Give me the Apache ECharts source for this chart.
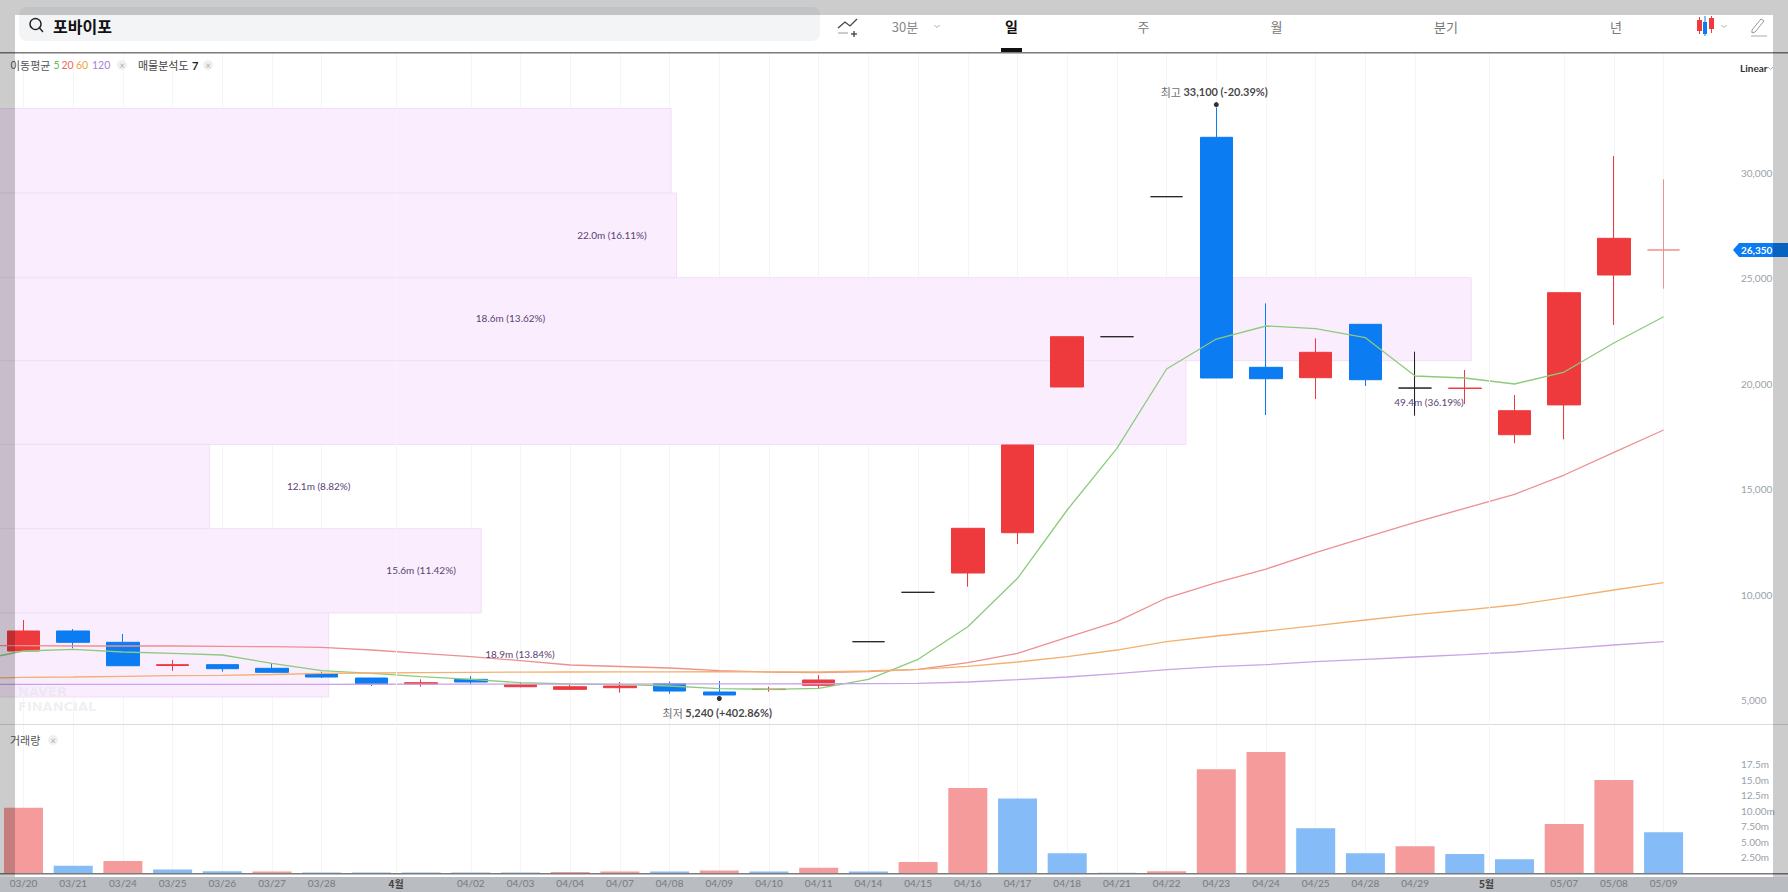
<!DOCTYPE html>
<html>
<head>
<meta charset="utf-8">
<title>포바이포</title>
<style>
  html, body { margin: 0; padding: 0; background: #fff; }
  #chart { width: 1788px; height: 892px; }
</style>
<script src="https://cdn.jsdelivr.net/npm/echarts@6/dist/echarts.min.js"></script>
</head>
<body>
<div id="chart"></div>
<script>
// first category only carries the moving averages off the left edge
var categories = ["03/19","03/20","03/21","03/24","03/25","03/26","03/27","03/28","03/31","04/01","04/02","04/03","04/04","04/07","04/08","04/09","04/10","04/11","04/14","04/15","04/16","04/17","04/18","04/21","04/22","04/23","04/24","04/25","04/28","04/29","04/30","05/02","05/07","05/08","05/09"];
var opens  = [null,7328,8277,7741,6640,6680,6507,6237,6047,5763,5985,5634,5510,5588,5778,5384,5500,5700,7769,10112,11028,12939,19850,22235,28876,31693,20784,20291,22823,19800,19780,17587,19000,25162,26350];
var closes = [null,8277,7741,6630,6680,6490,6318,6095,5763,5825,5858,5730,5634,5668,5430,5242,5520,5953,7769,10112,13148,17099,22235,22235,28876,20277,20243,21495,20196,19800,19800,18726,24323,26902,26350];
var lows   = [null,7328,7457,6630,6390,6347,6318,6047,5668,5634,5763,5607,5478,5350,5303,5240,5398,5558,7769,10112,10379,12403,19850,22235,28876,20277,18522,19281,19897,18488,19044,17179,17370,22790,24512];
var highs  = [null,8799,8371,8135,6900,6712,6745,6347,6047,5985,6143,5844,5748,5858,5873,5905,5634,6190,7769,10112,13148,17099,22235,22235,28876,33100,23819,22160,22823,21525,20656,19470,24323,30806,29700];
var flatDays = ["04/14","04/15","04/21","04/22","04/29"];

var ma5   = [6854,7328,7408,7281,7219,7139,6745,6394,6270,6109,5985,5825,5763,5748,5668,5540,5511,5559,5985,6934,8481,10776,14016,16942,20703,22126,22743,22615,22188,20371,20276,19992,20561,21937,23184];
var ma20  = [7589,7579,7566,7566,7566,7551,7532,7504,7376,7219,7058,6868,6664,6593,6522,6394,6332,6300,6347,6460,6773,7219,7978,8718,9842,10568,11217,11991,12721,13433,14096,14761,15675,16752,17810];
var ma60  = [6033,6081,6095,6128,6157,6176,6213,6270,6285,6300,6319,6323,6333,6338,6342,6347,6342,6333,6380,6460,6603,6806,7058,7375,7769,8039,8277,8528,8798,9049,9272,9510,9856,10221,10568];
var ma120 = [5744,5745,5746,5747,5748,5748,5749,5750,5752,5754,5756,5758,5760,5762,5765,5768,5771,5775,5777,5796,5858,5967,6095,6252,6442,6584,6679,6821,6935,7043,7153,7281,7437,7613,7769];

var volumes = [null,10.5,1.18,1.94,0.55,0.27,0.25,0.1,0.1,0.1,0.1,0.1,0.15,0.25,0.25,0.4,0.25,0.86,0.25,1.77,13.7,12.0,3.2,0.03,0.27,16.7,19.5,7.2,3.2,4.3,3.06,2.2,7.9,15.0,6.56];
var volumeUp = [0,1,0,1,0,0,1,0,0,0,0,0,1,1,0,1,0,1,0,1,1,0,0,0,1,1,1,0,0,1,0,0,1,1,0];

var priceTicks = [5000,10000,15000,20000,25000,30000];
var volumeTicks = [2.5,5,7.5,10,12.5,15,17.5];
var volumeTickLabels = ["2.50m","5.00m","7.50m","10.00m","12.5m","15.0m","17.5m"];

// 매물분석도: price bands, right edge in category units
var profileLow   = [29051,25034,21097,17127,13129,9130,5146];
var profileHigh  = [33054,29051,25034,21097,17127,13129,9130];
var profileRight = [14.03,14.14,30.13,24.39,4.74,10.21,7.14];
var profileLabels = ["22.0m (16.11%)","18.6m (13.62%)","49.4m (36.19%)","12.1m (8.82%)","15.6m (11.42%)","18.9m (13.84%)"];
var profileLabelX = [12.84,10.80,29.28,6.94,9.0,10.99];
var profileLabelPrice = [27078,23122,19138,15154,11151,7187];

var monthBreaks = [8.5,30.5];
var lastPrice = 26350;

var RED = "#ee3a3d", BLUE = "#0b7cf1";
var FONT = "Lato, 'Noto Sans CJK KR', sans-serif";
var KR = "'Noto Sans CJK KR', Lato, sans-serif";
var GRID_LINE = "#f4f5f7";

var candleData = categories.map(function (c, i) {
  if (opens[i] === null) return "-";
  var item = { value: [opens[i], closes[i], lows[i], highs[i]] };
  if (flatDays.indexOf(c) >= 0) {
    item.itemStyle = { color: "#222", color0: "#222", borderColor: "#222", borderColor0: "#222", borderColorDoji: "#222" };
  } else if (opens[i] === closes[i]) {
    item.itemStyle = { borderColorDoji: "#f08f90" };
  }
  return item;
});
var volumeData = volumes.map(function (v, i) {
  if (v === null) return "-";
  return { value: v, itemStyle: { color: volumeUp[i] ? "#f59b9c" : "#85bbf7" } };
});
var profileData = profileRight.map(function (r, i) {
  return [r, profileLow[i], profileHigh[i]];
});
var profileLabelData = profileLabelX.map(function (x, i) {
  return [x, profileLabelPrice[i]];
});

function hiddenDate(value) {
  return value === "03/19" || value === "03/31" || value === "04/30";
}
function gridDate(index, value) {
  return !hiddenDate(value) && value !== "04/01" && value !== "05/02";
}
function maLine(name, data, color) {
  return {
    name: name, type: "line", data: data, xAxisIndex: 0, yAxisIndex: 0, z: 4,
    symbol: "none", silent: true, lineStyle: { color: color, width: 1.3 }
  };
}

var option = {
  animation: false,
  textStyle: { fontFamily: FONT },
  grid: [
    { left: -26.2, width: 1689.8, top: 52, height: 672, outerBoundsMode: "none" },
    { left: -26.2, width: 1689.8, top: 724, height: 149, outerBoundsMode: "none" }
  ],
  xAxis: [
    {
      type: "category", gridIndex: 0, data: categories, boundaryGap: false,
      axisLine: { show: false }, axisTick: { show: false }, axisLabel: { show: false },
      splitLine: { show: true, interval: gridDate, lineStyle: { color: GRID_LINE } }
    },
    {
      type: "category", gridIndex: 1, data: categories, boundaryGap: false,
      axisLine: { show: false }, axisTick: { show: false },
      splitLine: { show: true, interval: gridDate, lineStyle: { color: GRID_LINE } },
      axisLabel: {
        margin: 5, fontSize: 10, color: "#777b82", fontFamily: FONT,
        interval: function (index, value) { return !hiddenDate(value); },
        formatter: function (value) {
          if (value === "04/01") return "{m4|4월}";
          if (value === "05/02") return "{m5|5월}";
          return value;
        },
        rich: {
          m4: { fontSize: 10, fontWeight: "bold", color: "#444", fontFamily: KR, padding: [0, 50, 0, 0] },
          m5: { fontSize: 10, fontWeight: "bold", color: "#444", fontFamily: KR, padding: [0, 56, 0, 0] }
        }
      }
    },
    { type: "value", gridIndex: 0, min: 0, max: 34, show: false, splitLine: { show: false } },
    { type: "value", gridIndex: 1, min: 0, max: 34, show: false, splitLine: { show: false } }
  ],
  yAxis: [
    {
      type: "value", gridIndex: 0, position: "right", offset: 68.4, min: 3866, max: 35739, scale: true,
      splitLine: { show: false },
      axisLine: { show: true, lineStyle: { color: GRID_LINE } },
      axisTick: { show: true, length: 7, lineStyle: { color: GRID_LINE }, customValues: priceTicks },
      axisLabel: {
        margin: 9, fontSize: 10, color: "#9a9fa8", customValues: priceTicks,
        formatter: function (v) { return v.toLocaleString("en-US"); }
      }
    },
    {
      type: "value", gridIndex: 1, position: "right", offset: 68.4, min: 0, max: 24,
      splitLine: { show: false },
      axisLine: { show: true, lineStyle: { color: GRID_LINE } },
      axisTick: { show: false, customValues: volumeTicks },
      axisLabel: {
        margin: 9, fontSize: 10, color: "#9a9fa8", customValues: volumeTicks,
        formatter: function (v) { return volumeTickLabels[volumeTicks.indexOf(v)]; }
      }
    }
  ],
  series: [
    {
      name: "매물분석도", type: "custom", xAxisIndex: 2, yAxisIndex: 0, z: 1, silent: true,
      data: profileData, encode: { x: 0, y: [1, 2] }, clip: false,
      renderItem: function (params, api) {
        var tl = api.coord([0, api.value(2)]);
        var br = api.coord([api.value(0), api.value(1)]);
        return {
          type: "rect",
          shape: { x: tl[0], y: tl[1], width: br[0] - tl[0], height: br[1] - tl[1] },
          style: { fill: "#faeefe", stroke: "#f0dff6", lineWidth: 1 }
        };
      },
      markLine: {
        silent: true, symbol: "none", label: { show: false }, animation: false,
        lineStyle: { color: GRID_LINE, type: "solid", width: 1 },
        data: monthBreaks.map(function (x) { return { xAxis: x }; })
      }
    },
    {
      name: "구분선", type: "line", xAxisIndex: 3, yAxisIndex: 1, data: [], silent: true,
      markLine: {
        silent: true, symbol: "none", label: { show: false }, animation: false,
        lineStyle: { color: GRID_LINE, type: "solid", width: 1 },
        data: monthBreaks.map(function (x) { return { xAxis: x }; })
      }
    },
    {
      name: "일봉", type: "candlestick", xAxisIndex: 0, yAxisIndex: 0, z: 3, silent: true,
      barWidth: 33, data: candleData,
      itemStyle: { color: RED, color0: BLUE, borderColor: RED, borderColor0: BLUE, borderColorDoji: RED, borderWidth: 1 }
    },
    maLine("이동평균 5", ma5, "#8ccb7c"),
    maLine("이동평균 20", ma20, "#ee8f90"),
    maLine("이동평균 60", ma60, "#f4b06e"),
    maLine("이동평균 120", ma120, "#c9a4e6"),
    {
      name: "매물분석도 라벨", type: "custom", xAxisIndex: 2, yAxisIndex: 0, z: 6, silent: true,
      data: profileLabelData, encode: { x: 0, y: 1 }, clip: false,
      renderItem: function (params, api) {
        var p = api.coord([api.value(0), api.value(1)]);
        return {
          type: "text",
          style: {
            x: p[0], y: p[1], text: profileLabels[params.dataIndex],
            align: "center", verticalAlign: "middle",
            fill: "#5b3f74", font: "10px " + FONT
          }
        };
      }
    },
    {
      name: "최고", type: "scatter", xAxisIndex: 0, yAxisIndex: 0, z: 7, silent: true,
      symbolSize: 5, symbolOffset: [0, -3], itemStyle: { color: "#000" },
      data: [["04/23", 33100]],
      label: {
        show: true, position: "top", distance: 5, offset: [-2, 0],
        formatter: "{a|최고 }{b|33,100 (-20.39%)}",
        rich: { a: { fontFamily: KR, fontSize: 11, color: "#444" }, b: { fontSize: 11, fontWeight: "bold", color: "#111" } }
      }
    },
    {
      name: "최저", type: "scatter", xAxisIndex: 0, yAxisIndex: 0, z: 7, silent: true,
      symbolSize: 5, symbolOffset: [0, 3.5], itemStyle: { color: "#000" },
      data: [["04/09", 5240]],
      label: {
        show: true, position: "bottom", distance: 6, offset: [-2, 0],
        formatter: "{a|최저 }{b|5,240 (+402.86%)}",
        rich: { a: { fontFamily: KR, fontSize: 11, color: "#444" }, b: { fontSize: 11, fontWeight: "bold", color: "#111" } }
      }
    },
    {
      name: "거래량", type: "bar", xAxisIndex: 1, yAxisIndex: 1, z: 2, silent: true,
      barWidth: 39, clip: false, data: volumeData
    }
  ]
};

var chart = echarts.init(document.getElementById("chart"), null, { renderer: "svg" });
chart.setOption(option);

// page chrome around the chart
function txt(x, y, text, font, fill, align, z) {
  return {
    type: "text", x: x, y: y, z: z === undefined ? 20 : z, silent: true,
    style: { text: text, font: font, fill: fill, textAlign: align || "left", textVerticalAlign: "middle" }
  };
}
function box(x, y, w, h, fill, z) {
  return { type: "rect", silent: true, z: z === undefined ? 20 : z, shape: { x: x, y: y, width: w, height: h }, style: { fill: fill } };
}
function stroke(points, color, width) {
  return { type: "polyline", silent: true, z: 20, shape: { points: points }, style: { stroke: color, lineWidth: width || 1, fill: null } };
}
function closeDot(x, y) {
  return [
    { type: "circle", silent: true, z: 20, shape: { cx: x, cy: y, r: 5 }, style: { fill: "#eff0f2" } },
    txt(x, y, "×", "9px " + FONT, "#a9adb3", "center")
  ];
}

var tagY = chart.convertToPixel({ yAxisIndex: 0 }, lastPrice);
var chrome = [
  { type: "rect", silent: true, z: 10, shape: { x: 19, y: 7, width: 801, height: 34, r: 8 }, style: { fill: "#f2f4f6" } },
  { type: "circle", silent: true, z: 20, shape: { cx: 35.5, cy: 24, r: 5.5 }, style: { stroke: "#222", lineWidth: 1.4, fill: null } },
  stroke([[39.5, 28], [43, 32]], "#222", 1.4),
  txt(53, 26, "포바이포", "bold 16px " + KR, "#111"),

  stroke([[838, 28], [845, 22], [850, 26], [857, 19]], "#444", 1.3),
  stroke([[838, 33], [848, 33]], "#999", 1),
  stroke([[851, 34], [857, 34]], "#333", 1.2),
  stroke([[854, 31], [854, 37]], "#333", 1.2),
  txt(905, 26, "30분", "13px " + KR, "#888", "center"),
  stroke([[934.5, 25], [937, 27.5], [939.5, 25]], "#aaa", 1),
  txt(1011.5, 26, "일", "bold 14px " + KR, "#111", "center"),
  box(1001, 48, 21, 4, "#111"),
  txt(1143.5, 26, "주", "13px " + KR, "#777", "center"),
  txt(1276.5, 26, "월", "13px " + KR, "#777", "center"),
  txt(1446, 26, "분기", "13px " + KR, "#777", "center"),
  txt(1616, 26, "년", "13px " + KR, "#777", "center"),
  box(1697, 20, 5, 11, RED),
  box(1709, 18, 5, 11, RED),
  box(1703, 22, 4, 12, BLUE),
  stroke([[1705, 16], [1705, 36]], BLUE, 1),
  stroke([[1699.5, 17], [1699.5, 34]], RED, 1),
  stroke([[1711.5, 16], [1711.5, 33]], RED, 1),
  stroke([[1721.5, 25], [1724, 27.5], [1726.5, 25]], "#aaa", 1),
  stroke([[1752, 30], [1761, 19], [1764, 21], [1755, 32], [1752, 33], [1752, 30]], "#999", 1),
  stroke([[1751, 36], [1767, 36]], "#aaa", 1),

  box(0, 52, 1788, 1.5, "#7b7b7b", 30),
  box(0, 724, 1788, 1, "#d9dae2", 1),
  box(0, 873, 1788, 1.5, "#7b7b7b", 30),

  txt(10, 65, "이동평균", "11px " + KR, "#555"),
  txt(53.5, 65, "5", "10.5px " + FONT, "#63bb4c"),
  txt(61.5, 65, "20", "10.5px " + FONT, "#ee6a60"),
  txt(76, 65, "60", "10.5px " + FONT, "#f0a240"),
  txt(92, 65, "120", "10.5px " + FONT, "#a77fd8"),
  txt(138, 65, "매물분석도", "11px " + KR, "#444"),
  txt(192, 65, "7", "bold 11px " + FONT, "#222"),
  txt(10, 740, "거래량", "11px " + KR, "#555"),
  txt(1740, 68, "Linear", "bold 10px " + FONT, "#333"),
  stroke([[1768, 67], [1770.5, 69.5], [1773, 67]], "#aaa", 1),

  { type: "text", x: 18, y: 699, z: 2, silent: true,
    style: { text: "NAVER\nFINANCIAL", font: "bold 13px 'DejaVu Sans'", lineHeight: 15, fill: "rgba(224,228,234,0.55)", textAlign: "left", textVerticalAlign: "middle" } },

  { type: "polygon", silent: true, z: 20, shape: { points: [[1733, tagY], [1739, tagY - 7], [1788, tagY - 7], [1788, tagY + 7], [1739, tagY + 7]] }, style: { fill: BLUE } },
  txt(1741, tagY, lastPrice.toLocaleString("en-US"), "bold 10px " + FONT, "#fff"),

  box(0, 873, 1788, 4, "#ffffff", -1),
  box(0, 877, 1788, 15, "#b9bcc0", -1),
  box(0, 0, 1788, 15, "rgba(0,0,0,0.2)", 50),
  box(0, 15, 15, 862, "rgba(0,0,0,0.2)", 50),
  box(1773, 15, 15, 862, "rgba(0,0,0,0.2)", 50)
].concat(closeDot(122, 65), closeDot(208, 65), closeDot(53, 740));

chart.setOption({ graphic: { elements: chrome } });
</script>
</body>
</html>
